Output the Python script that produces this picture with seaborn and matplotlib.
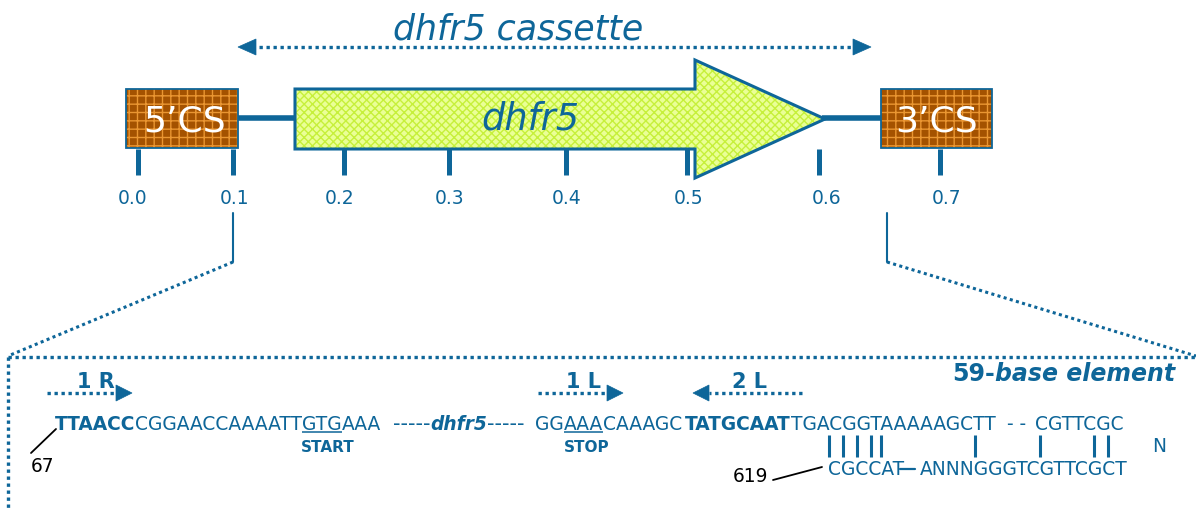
import matplotlib
matplotlib.use("Agg")
import matplotlib.pyplot as plt
import seaborn as sns
from matplotlib.patches import Rectangle, Polygon

sns.set_theme(style="white")
plt.rcParams['font.family'] = ['DejaVu Sans']
plt.rcParams['hatch.linewidth'] = 1.0

BLUE = "#0E6699"
LIME = "#EAFF96"
LIME_H = "#C6F03A"
BROWN = "#A45200"
BROWN_H = "#EA9632"

# ---- data (diagram scale, kb) ----
scale_labels = ["0.0", "0.1", "0.2", "0.3", "0.4", "0.5", "0.6", "0.7"]
scale_tick_x = [138, 233, 344, 449, 566, 687, 819, 940]
scale_label_x = [133, 235, 340, 450, 567, 689, 827, 947]

title_text = "dhfr5 cassette"
gene_name = "dhfr5"
left_cs = "5\u2019CS"
right_cs = "3\u2019CS"

seq1_a = [("TTAACC", "bold", False), ("CGGAACCAAAATT", "normal", False),
          ("GTG", "normal", True), ("AAA", "normal", False)]
seq1_b_left = "-----"
seq1_b_mid = "dhfr5"
seq1_b_right = "-----"
seq1_c = [("GG", "normal", False), ("AAA", "normal", True), ("CAAAGC", "normal", False)]
seq1_c2 = [("TATGCAAT", "bold", False), ("TGACGGTAAAAAGCTT", "normal", False)]
seq1_d = "- -"
seq1_e = "CGTTCGC"
seq2_a = "CGCCAT"
seq2_b = "ANNNGGGTCGTTCGCT"
pair_x = [829, 843, 857, 871, 881, 975, 1040, 1094, 1108]

primers = [("1 R", 47, 132, 96), ("1 L", 538, 623, 583), ("2 L", 802, 693, 750)]

fig = plt.figure(figsize=(11.96, 5.08), dpi=100)
ax = fig.add_axes([0, 0, 1, 1])
ax.set_xlim(0, 1196)
ax.set_ylim(508, 0)
ax.axis("off")
renderer = fig.canvas.get_renderer()
inv = ax.transData.inverted()


def extent(t):
    bb = t.get_window_extent(renderer)
    x0 = inv.transform((bb.x0, bb.y0))[0]
    x1 = inv.transform((bb.x1, bb.y0))[0]
    return x0, x1


def put(x, y, s, style="normal", size=13.4, color=BLUE, ha="left"):
    kw = {}
    if style in ("bold", "bolditalic"):
        kw["fontweight"] = "bold"
    if style in ("italic", "bolditalic"):
        kw["fontstyle"] = "italic"
    t = ax.text(x, y, s, ha=ha, va="baseline", fontsize=size, color=color, **kw)
    return extent(t)


def chain(x, y, parts, size=13.4):
    for s, style, ul in parts:
        x0, x1 = put(x, y, s, style, size)
        if ul:
            ax.plot([x0, x1], [y + 2, y + 2], color=BLUE, lw=1.1, solid_capstyle="butt")
        x = x1
    return x


def tri(tip_x, y, base_x, half=8):
    ax.add_patch(Polygon([(tip_x, y), (base_x, y - half), (base_x, y + half)],
                         closed=True, facecolor=BLUE, edgecolor=BLUE, lw=0.5, zorder=5))


DOT = (0, (1, 1.1))

# ---- title and cassette arrow ----
put(518, 40, title_text, "italic", 25, ha="center")
ax.plot([252, 857], [47, 47], color=BLUE, lw=2.4, ls=DOT)
tri(238, 47, 256, 8)
tri(871, 47, 853, 8)

# ---- backbone lines ----
ax.plot([236, 296], [118, 118], color=BLUE, lw=4, solid_capstyle="butt")
ax.plot([822, 881], [118, 118], color=BLUE, lw=4, solid_capstyle="butt")

# ---- CS boxes ----
for (x0, x1, lab, cx) in [(126, 238, left_cs, 185), (881, 992, right_cs, 937)]:
    ax.add_patch(Rectangle((x0, 89), x1 - x0, 59, facecolor=BROWN, edgecolor="none", zorder=2))
    ax.add_patch(Rectangle((x0, 89), x1 - x0, 59, fill=False, hatch="++",
                           edgecolor=BROWN_H, lw=0, zorder=3))
    ax.add_patch(Rectangle((x0, 89), x1 - x0, 59, fill=False, edgecolor=BLUE, lw=1.3, zorder=4))
    put(cx, 132, lab, "normal", 26, color="white", ha="center")

# ---- gene arrow ----
arrow_pts = [(295, 89), (695, 89), (695, 60), (825, 119), (695, 178), (695, 149), (295, 149)]
ax.add_patch(Polygon(arrow_pts, closed=True, facecolor=LIME, edgecolor="none", zorder=2))
ax.add_patch(Polygon(arrow_pts, closed=True, fill=False, hatch="xxxx", edgecolor=LIME_H, lw=0, zorder=3))
ax.add_patch(Polygon(arrow_pts, closed=True, fill=False, edgecolor=BLUE, lw=2.2, zorder=4))
put(530, 130, gene_name, "italic", 26.5, ha="center")

# ---- scale ticks ----
ax.vlines(scale_tick_x, 149, 175, color=BLUE, lw=3.6, zorder=6)
for lab, lx in zip(scale_labels, scale_label_x):
    put(lx, 204, lab, "normal", 13.5, ha="center")

# ---- zoom lines ----
ax.plot([233, 233], [213, 262], color=BLUE, lw=1.5)
ax.plot([887, 887], [213, 262], color=BLUE, lw=1.5)
ax.plot([233, 8], [262, 356], color=BLUE, lw=2.2, ls=DOT)
ax.plot([887, 1196], [262, 356], color=BLUE, lw=2.2, ls=DOT)
ax.plot([8, 1196], [357, 357], color=BLUE, lw=2.4, ls=DOT)
ax.plot([8, 8], [357, 508], color=BLUE, lw=2.4, ls=DOT)

# ---- 59-base element ----
bx0, bx1 = put(1175, 381, "base element", "bolditalic", 17, ha="right")
put(bx0, 381, "59-", "bold", 17, ha="right")

# ---- primers ----
for lab, start, tip, cx in primers:
    direction = 1 if tip > start else -1
    base = tip - direction * 16
    ax.plot([start, base], [393, 393], color=BLUE, lw=2.4, ls=DOT)
    tri(tip, 393, base, 8)
    put(cx, 388, lab, "bold", 15, ha="center")

# ---- sequence line 1 ----
chain(55, 430, seq1_a)
mx0, mx1 = put(430, 430, seq1_b_mid, "bolditalic")
put(mx0, 430, seq1_b_left, ha="right", size=15)
put(mx1, 430, seq1_b_right, size=15)
chain(535, 430, seq1_c)
chain(685, 430, seq1_c2)
put(1007, 430, seq1_d)
put(1035, 430, seq1_e)
put(328, 452, "START", "bold", 11, ha="center")
put(587, 452, "STOP", "bold", 11, ha="center")

# ---- pairing bars and line 2 ----
ax.vlines(pair_x, 435, 457, color=BLUE, lw=2.2)
put(1159, 452, "N", "normal", 13.4, ha="center")
put(828, 475, seq2_a)
ax.plot([900, 915], [469, 469], color=BLUE, lw=1.6)
put(920, 475, seq2_b)

# ---- position labels ----
put(768, 482, "619", "normal", 13.4, color="black", ha="right")
ax.plot([773, 822], [480, 467], color="black", lw=1.3)
put(31, 472, "67", "normal", 13.4, color="black")
ax.plot([31, 56], [453, 429], color="black", lw=1.3)

fig.savefig("out.png", dpi=100)
